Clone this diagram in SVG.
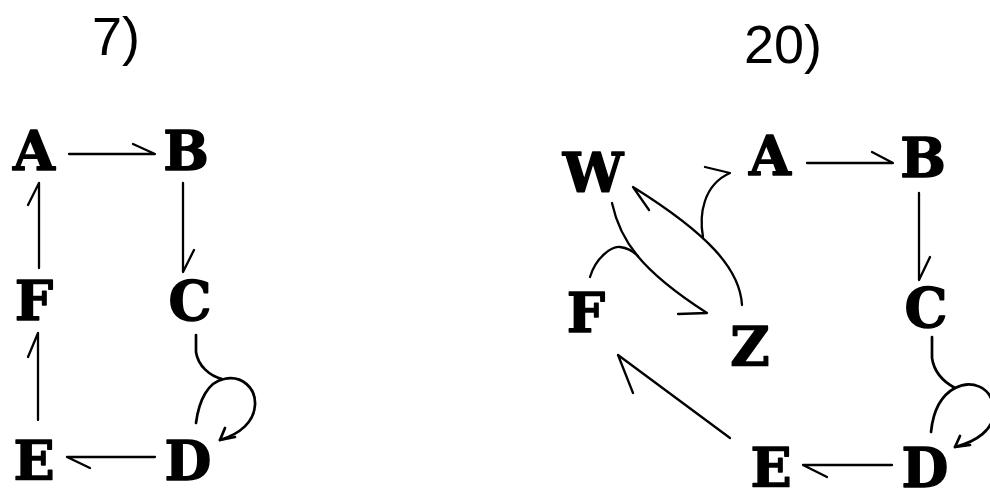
<svg xmlns="http://www.w3.org/2000/svg" width="990" height="492" viewBox="0 0 990 492">
  <style>
    .node { font-family: "DejaVu Serif", "Liberation Serif", serif; font-weight: bold; font-size: 54px; fill: #000; stroke: #000; stroke-width: 1.4; stroke-linejoin: round; text-anchor: middle; }
    .title { font-family: "Liberation Sans", Arial, sans-serif; font-size: 54px; fill: #000; }
    .edge { fill: none; stroke: #000; stroke-width: 2.3; stroke-linecap: round; stroke-linejoin: round; }
    .loop { stroke-width: 2.7; }
  </style>
  <rect width="990" height="492" fill="#fff"/>

  <!-- problem titles -->
  <text class="title" x="92" y="55">7)</text>
  <text class="title" x="744" y="63">20)</text>

  <!-- graph 7 nodes -->
  <g id="g7-A"><text class="node" x="34" y="170">A</text></g>
  <g id="g7-B"><text class="node" x="186" y="170">B</text></g>
  <g id="g7-F"><text class="node" x="34" y="320">F</text></g>
  <g id="g7-C"><text class="node" x="190" y="320">C</text></g>
  <g id="g7-E"><text class="node" x="34" y="480">E</text></g>
  <g id="g7-D"><text class="node" x="188" y="480">D</text></g>

  <!-- graph 20 nodes -->
  <g id="g20-W"><text class="node" x="593" y="192">W</text></g>
  <g id="g20-A"><text class="node" x="770" y="175">A</text></g>
  <g id="g20-B"><text class="node" x="923" y="177">B</text></g>
  <g id="g20-F"><text class="node" x="586" y="332">F</text></g>
  <g id="g20-Z"><text class="node" x="750" y="366">Z</text></g>
  <g id="g20-C"><text class="node" x="926" y="327">C</text></g>
  <g id="g20-E"><text class="node" x="771" y="487">E</text></g>
  <g id="g20-D"><text class="node" x="925" y="487">D</text></g>

  <!-- connectors: half-barb arrows drawn as one stroke each -->
  <g id="connectors">
    <!-- graph 7 -->
    <path class="edge" d="M69,154 H155 L133,144"/>
    <path class="edge" d="M183,183 V272 L194,250"/>
    <path class="edge" d="M39,268 V183 L28,205"/>
    <path class="edge" d="M38,420 V333 L28,357"/>
    <path class="edge" d="M155,457 H67 L90,468"/>
    <path class="edge loop" d="M196,335 V352 C198,366 210,376 222,379"/>
    <path class="edge loop" d="M196,423 C199,400 208,382 224,379 C242,375 256,388 255,405 C254,422 240,434 220,440"/>
    <path class="edge loop" d="M225,428 L220,440 L235,437"/>

    <!-- graph 20 -->
    <path class="edge" d="M807,163 H893 L872,152"/>
    <path class="edge" d="M919,193 V280 L930,257"/>
    <path class="edge" d="M892,465 H803 L827,477"/>
    <path class="edge" d="M730,438 L618,355 L633,393"/>
    <path class="edge loop" d="M932,337 V358 C934,372 944,382 955,388"/>
    <path class="edge loop" d="M931,432 C933,412 940,396 955,388 C970,380 992,385 994,410 C995,430 975,442 955,447"/>
    <path class="edge loop" d="M960,436 L955,447 L970,445"/>
    <path class="edge" d="M742,305 C740,270 710,235 633,187 L649,210"/>
    <path class="edge" d="M703,237 C699,215 703,185 730,173 L705,167"/>
    <path class="edge" d="M612,203 C620,240 640,270 707,313 L678,314"/>
    <path class="edge" d="M590,277 C596,257 612,246 620,247 C628,248 634,252 638,256"/>
  </g>
</svg>
